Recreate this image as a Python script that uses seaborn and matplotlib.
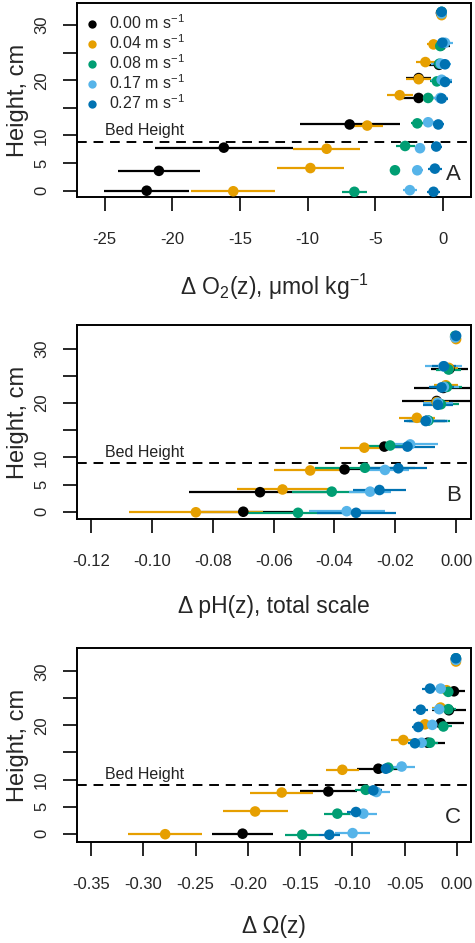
import numpy as np
import pandas as pd
import matplotlib
matplotlib.use("Agg")
import matplotlib.pyplot as plt
from matplotlib.lines import Line2D
import matplotlib.transforms as mtransforms
import seaborn as sns

# ---------------- data ----------------
speeds = ["0.00", "0.04", "0.08", "0.17", "0.27"]
colors = ["#000000", "#E69F00", "#009E73", "#56B4E9", "#0072B2"]
bed_height = 8.9

# measurement heights (cm) for each flow speed
h_000 = [0.0, 3.6, 7.8, 12.0, 16.8, 20.4, 22.8, 26.3, 32.2]
h_004 = [-0.1, 4.1, 7.6, 11.8, 17.3, 20.2, 23.3, 26.5, 31.8]
h_008 = [-0.2, 3.7, 8.1, 12.2, 16.8, 19.8, 23.0, 26.2, 32.4]
h_017 = [0.1, 3.7, 7.7, 12.4, 16.8, 20.1, 23.0, 26.8, 32.1]
h_027 = [-0.2, 4.0, 8.0, 12.0, 16.7, 19.7, 22.9, 26.8, 32.4]

# Panel A: delta O2 (umol/kg) and error
o2_000 = [-21.9, -21.0, -16.2, -6.9, -1.8, -1.8, -0.3, -0.15, -0.15]
o2_004 = [-15.5, -9.8, -8.6, -5.6, -3.2, -1.8, -1.3, -0.7, -0.1]
o2_008 = [-6.55, -3.55, -2.8, -1.9, -1.1, -0.45, -0.27, -0.2, -0.1]
o2_017 = [-2.45, -1.9, -1.7, -1.1, -0.2, -0.1, -0.15, 0.15, -0.1]
o2_027 = [-0.7, -0.6, -0.5, -0.35, -0.1, 0.15, 0.15, -0.05, -0.1]
o2e_000 = [3.15, 3.05, 5.1, 3.7, 1.2, 0.9, 0.7, 0.7, 0.1]
o2e_004 = [3.1, 2.45, 2.45, 1.2, 0.95, 0.9, 0.7, 0.45, 0.1]
o2e_008 = [0.9, 0.4, 0.7, 0.5, 0.4, 0.5, 0.6, 0.5, 0.1]
o2e_017 = [0.5, 0.4, 0.3, 0.4, 0.6, 0.75, 0.75, 0.6, 0.1]
o2e_027 = [0.5, 0.5, 0.4, 0.4, 0.5, 0.5, 0.4, 0.4, 0.1]

# Panel B: delta pH (total scale) and error
ph_000 = [-0.070, -0.0645, -0.0367, -0.0236, -0.0095, -0.0064, -0.0042, -0.0022, -0.0003]
ph_004 = [-0.0856, -0.0571, -0.048, -0.0302, -0.0129, -0.0064, -0.0034, -0.0024, 0.0]
ph_008 = [-0.052, -0.0409, -0.030, -0.0217, -0.0091, -0.005, -0.003, -0.0025, -0.0003]
ph_017 = [-0.036, -0.0283, -0.0234, -0.0151, -0.0096, -0.006, -0.004, -0.0042, -0.0003]
ph_027 = [-0.0329, -0.0252, -0.019, -0.016, -0.010, -0.006, -0.0048, -0.004, 0.0]
phe_000 = [0.017, 0.0233, 0.008, 0.007, 0.006, 0.0113, 0.0095, 0.006, 0.0005]
phe_004 = [0.022, 0.015, 0.012, 0.008, 0.006, 0.004, 0.004, 0.003, 0.0005]
phe_008 = [0.0165, 0.013, 0.0165, 0.008, 0.007, 0.006, 0.005, 0.004, 0.0005]
phe_017 = [0.0125, 0.007, 0.008, 0.009, 0.007, 0.005, 0.005, 0.006, 0.0005]
phe_027 = [0.013, 0.0087, 0.0095, 0.009, 0.007, 0.005, 0.004, 0.004, 0.0005]

# Panel C: delta Omega and error
om_000 = [-0.205, np.nan, -0.123, -0.0752, -0.028, -0.0156, -0.0077, -0.0029, -0.001]
om_004 = [-0.279, -0.193, -0.1676, -0.1096, -0.0513, -0.0306, -0.0157, -0.0099, -0.001]
om_008 = [-0.148, -0.1144, -0.0873, -0.0657, -0.0258, -0.013, -0.0083, -0.0083, -0.001]
om_017 = [-0.0998, -0.0895, -0.077, -0.0529, -0.0338, -0.0236, -0.017, -0.0156, -0.001]
om_027 = [-0.122, -0.0966, -0.080, -0.068, -0.0402, -0.037, -0.0347, -0.0258, -0.001]
ome_000 = [0.029, np.nan, 0.027, 0.020, 0.017, 0.022, 0.0165, 0.011, 0.001]
ome_004 = [0.0355, 0.031, 0.030, 0.016, 0.012, 0.010, 0.008, 0.007, 0.001]
ome_008 = [0.016, 0.013, 0.010, 0.010, 0.008, 0.008, 0.007, 0.006, 0.001]
ome_017 = [0.017, 0.013, 0.013, 0.013, 0.010, 0.008, 0.007, 0.007, 0.001]
ome_027 = [0.010, 0.009, 0.008, 0.008, 0.007, 0.006, 0.007, 0.008, 0.001]

x_labels = ["\u0394 O$_2$(z), \u03bcmol kg$^{-1}$", "\u0394 pH(z), total scale", "\u0394 \u03a9(z)"]
x_ticks = [[-25, -20, -15, -10, -5, 0],
           [-0.12, -0.10, -0.08, -0.06, -0.04, -0.02, 0.00],
           [-0.35, -0.30, -0.25, -0.20, -0.15, -0.10, -0.05, 0.00]]
x_ticklabels = [["-25", "-20", "-15", "-10", "-5", "0"],
                ["-0.12", "-0.10", "-0.08", "-0.06", "-0.04", "-0.02", "0.00"],
                ["-0.35", "-0.30", "-0.25", "-0.20", "-0.15", "-0.10", "-0.05", "0.00"]]
y_ticks = [0, 5, 10, 15, 20, 25, 30]
y_ticklabels = ["0", "5", "10", "", "20", "", "30"]
panel_letters = ["A", "B", "C"]

heights = [h_000, h_004, h_008, h_017, h_027]
panel_vals = [[o2_000, o2_004, o2_008, o2_017, o2_027],
              [ph_000, ph_004, ph_008, ph_017, ph_027],
              [om_000, om_004, om_008, om_017, om_027]]
panel_errs = [[o2e_000, o2e_004, o2e_008, o2e_017, o2e_027],
              [phe_000, phe_004, phe_008, phe_017, phe_027],
              [ome_000, ome_004, ome_008, ome_017, ome_027]]

rows = []
for p in range(3):
    for s, sp in enumerate(speeds):
        for h, v, e in zip(heights[s], panel_vals[p][s], panel_errs[p][s]):
            rows.append(dict(panel=p, speed=sp, height=h, value=v, err=e))
df = pd.DataFrame(rows).dropna()

# ---------------- style ----------------
sns.set_theme(style="ticks")
plt.rcParams["font.family"] = ["Liberation Sans", "DejaVu Sans"]
plt.rcParams["mathtext.fontset"] = "custom"
plt.rcParams["mathtext.rm"] = "Liberation Sans"
plt.rcParams["mathtext.it"] = "Liberation Sans:italic"
plt.rcParams["mathtext.bf"] = "Liberation Sans:bold"

W, H = 475, 943
fig = plt.figure(figsize=(W / 100, H / 100), dpi=100)

# axes boxes in pixels: (left, top, right, bottom)
boxes = [(77, 3, 471, 197), (77, 325, 471, 519), (77, 648, 471, 842)]
xlims = [(-27.05, 2.07), (-0.1247, 0.0049), (-0.3633, 0.0134)]
ylims = [(-1.14, 34.0), (-1.34, 34.4), (-1.54, 34.3)]
xlabel_pads = [18, 19, 16.5]

palette = dict(zip(speeds, colors))

for p in range(3):
    l, t, r, b = boxes[p]
    ax = fig.add_axes([l / W, 1 - b / H, (r - l) / W, (b - t) / H])
    sub = df[df.panel == p]
    for sp in speeds:
        d = sub[sub.speed == sp]
        ax.hlines(d.height, d.value - d.err, d.value + d.err, color=palette[sp], lw=1.6, zorder=2)
        sns.scatterplot(data=d, x="value", y="height", color=palette[sp], s=58,
                        edgecolor="none", linewidth=0, ax=ax, zorder=3, legend=False)
    ax.axhline(bed_height, color="black", lw=1.4, linestyle=(0, (5, 3.5)), zorder=1)
    trans = mtransforms.blended_transform_factory(ax.transAxes, ax.transData)
    ax.text(0.071, bed_height + 0.7, "Bed Height", transform=trans, fontsize=11.5,
            ha="left", va="bottom", color="#222222")
    ax.text(0.955, 3.0, panel_letters[p], transform=trans, fontsize=16,
            ha="center", va="center")
    ax.set_xlim(*xlims[p])
    ax.set_ylim(*ylims[p])
    ax.set_xticks(x_ticks[p])
    ax.set_xticklabels(x_ticklabels[p])
    ax.set_yticks(y_ticks)
    ax.set_yticklabels(y_ticklabels, rotation=90, va="center")
    ax.tick_params(axis="x", length=10, width=1.4, pad=15, labelsize=12, direction="out")
    ax.tick_params(axis="y", length=10, width=1.4, pad=10, labelsize=12, direction="out")
    for sp_ in ax.spines.values():
        sp_.set_linewidth(1.4)
        sp_.set_color("black")
    ax.set_xlabel(x_labels[p], fontsize=16.5, labelpad=xlabel_pads[p])
    ax.set_ylabel("Height, cm", fontsize=17, labelpad=4)

    if p == 0:
        handles = [Line2D([0], [0], marker="o", linestyle="none", markersize=6,
                          markerfacecolor=c, markeredgecolor="none") for c in colors]
        labels = [f"{s} m s$^{{-1}}$" for s in speeds]
        ax.legend(handles, labels, loc="upper left", bbox_to_anchor=(-0.01, 0.995),
                  frameon=False, fontsize=11.5, handletextpad=0.45, labelspacing=0.08,
                  borderaxespad=0.2, handlelength=1.2)

fig.savefig("out.png", dpi=100)
